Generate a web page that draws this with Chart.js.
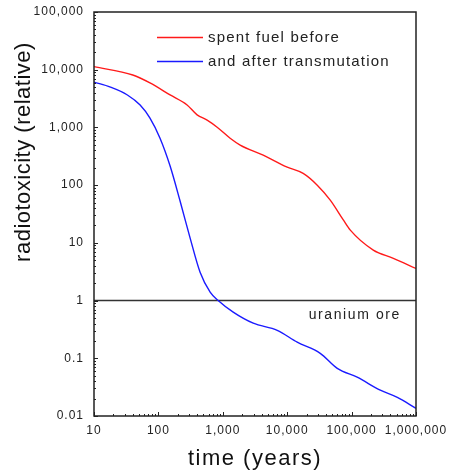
<!DOCTYPE html>
<html>
<head>
<meta charset="utf-8">
<script src="https://cdn.jsdelivr.net/npm/chart.js@4/dist/chart.umd.min.js"></script>
<style>
  html, body { margin: 0; padding: 0; background: #fff; }
  #wrap { width: 450px; height: 472px; }
</style>
</head>
<body>
<div id="wrap"><canvas id="chart" width="450" height="472"></canvas></div>
<script>
// Radiotoxicity of spent fuel before and after transmutation

const seriesLabels = ['spent fuel before', 'and after transmutation'];

// spent fuel before (red)
const beforeYears = [10, 40, 74, 152, 279, 399, 571, 817, 1300, 1860, 4240, 10000, 17700, 29300, 46600, 74300, 95500, 217000, 445000, 1000000];
const beforeValues = [11300, 8100, 5900, 3650, 2450, 1650, 1340, 1010, 650, 495, 330, 205, 160, 100, 55, 25, 16.6, 7.5, 5.4, 3.6];

// and after transmutation (blue)
const afterYears = [10, 18, 33, 52, 74, 106, 152, 217, 311, 444, 636, 847, 1450, 2970, 7000, 14300, 32600, 59900, 122000, 279000, 513000, 1000000];
const afterValues = [6100, 5000, 3650, 2440, 1450, 650, 214, 53, 12.1, 3.1, 1.4, 1.0, 0.63, 0.405, 0.305, 0.19, 0.122, 0.067, 0.047, 0.028, 0.021, 0.0136];

// uranium ore reference level
const oreLevel = 1;
const oreLabel = 'uranium ore';

// axis ticks
const xTicks = [10, 100, 1000, 10000, 100000, 1000000];
const xTickLabels = ['10', '100', '1,000', '10,000', '100,000', '1,000,000'];
const yTicks = [0.01, 0.1, 1, 10, 100, 1000, 10000, 100000];
const yTickLabels = ['0.01', '0.1', '1', '10', '100', '1,000', '10,000', '100,000'];

const xTitle = 'time (years)';
const yTitle = 'radiotoxicity (relative)';

const FONT = '"Liberation Sans", Arial, sans-serif';

function toPoints(xs, ys) {
    return xs.map((x, i) => ({ x: x, y: ys[i] }));
}

// letter spacing gets reset whenever the canvas is resized
const spacingPlugin = {
    id: 'spacing',
    beforeUpdate(chart) { chart.ctx.letterSpacing = '1px'; },
    beforeDraw(chart) { chart.ctx.letterSpacing = '1px'; }
};

// box, inward tick marks, legend, titles and ore label
const decorPlugin = {
    id: 'decor',
    afterDraw(chart) {
        const ctx = chart.ctx;
        const a = chart.chartArea;
        const xs = chart.scales.x;
        const ys = chart.scales.y;

        ctx.save();
        ctx.strokeStyle = '#222';
        ctx.lineWidth = 1;

        // minor + major ticks, pointing into the plot
        ctx.beginPath();
        xTicks.forEach((d, i) => {
            const px = Math.round(xs.getPixelForValue(d)) + 0.5;
            ctx.moveTo(px, a.bottom); ctx.lineTo(px, a.bottom - 4);
            if (i < xTicks.length - 1) {
                for (let k = 2; k < 10; k++) {
                    const mx = Math.round(xs.getPixelForValue(d * k)) + 0.5;
                    ctx.moveTo(mx, a.bottom); ctx.lineTo(mx, a.bottom - 2);
                }
            }
        });
        yTicks.forEach((d, i) => {
            const py = Math.round(ys.getPixelForValue(d)) + 0.5;
            ctx.moveTo(a.left, py); ctx.lineTo(a.left + 4, py);
            if (i < yTicks.length - 1) {
                for (let k = 2; k < 10; k++) {
                    const my = Math.round(ys.getPixelForValue(d * k)) + 0.5;
                    ctx.moveTo(a.left, my); ctx.lineTo(a.left + 2, my);
                }
            }
        });
        ctx.stroke();

        // frame
        ctx.lineWidth = 1.5;
        ctx.strokeRect(a.left, a.top, a.right - a.left, a.bottom - a.top);

        // legend inside the plot
        ctx.letterSpacing = '1.2px';
        ctx.font = '15px ' + FONT;
        ctx.textBaseline = 'middle';
        ctx.textAlign = 'left';
        chart.data.datasets.slice(0, 2).forEach((ds, i) => {
            const ly = a.top + 25.5 + i * 24;
            ctx.strokeStyle = ds.borderColor;
            ctx.lineWidth = 1.3;
            ctx.beginPath();
            ctx.moveTo(a.left + 63, ly);
            ctx.lineTo(a.left + 109, ly);
            ctx.stroke();
            ctx.fillStyle = '#222';
            ctx.fillText(ds.label, a.left + 114, ly);
        });

        // ore label under the reference line
        ctx.letterSpacing = '1.6px';
        ctx.font = '14px ' + FONT;
        ctx.textAlign = 'right';
        ctx.fillText(oreLabel, a.right - 15, ys.getPixelForValue(oreLevel) + 15);

        // axis titles
        ctx.font = '22px ' + FONT;
        ctx.fillStyle = '#111';
        ctx.textAlign = 'center';
        ctx.letterSpacing = '1.5px';
        ctx.fillText(xTitle, (a.left + a.right) / 2, 459);
        ctx.save();
        ctx.translate(24, 152);
        ctx.rotate(-Math.PI / 2);
        ctx.letterSpacing = '0.5px';
        ctx.fillText(yTitle, 0, 0);
        ctx.restore();

        ctx.restore();
    }
};

document.addEventListener('DOMContentLoaded', function() {
    const ctx = document.getElementById('chart').getContext('2d');
    new Chart(ctx, {
        type: 'scatter',
        data: {
            datasets: [
                {
                    label: seriesLabels[0],
                    data: toPoints(beforeYears, beforeValues),
                    showLine: true,
                    borderColor: '#ff1a1a',
                    borderWidth: 1.4,
                    pointRadius: 0,
                    cubicInterpolationMode: 'monotone'
                },
                {
                    label: seriesLabels[1],
                    data: toPoints(afterYears, afterValues),
                    showLine: true,
                    borderColor: '#1a1aff',
                    borderWidth: 1.4,
                    pointRadius: 0,
                    cubicInterpolationMode: 'monotone'
                },
                {
                    label: oreLabel,
                    data: toPoints([xTicks[0], xTicks[xTicks.length - 1]], [oreLevel, oreLevel]),
                    showLine: true,
                    borderColor: '#333',
                    borderWidth: 1.5,
                    pointRadius: 0
                }
            ]
        },
        options: {
            responsive: false,
            animation: false,
            layout: { padding: { top: 12, right: 34, left: 0, bottom: 0 } },
            plugins: {
                legend: { display: false },
                tooltip: { enabled: false }
            },
            scales: {
                x: {
                    type: 'logarithmic',
                    min: xTicks[0],
                    max: xTicks[xTicks.length - 1],
                    afterBuildTicks: s => { s.ticks = xTicks.map(v => ({ value: v })); },
                    afterFit: s => { s.height = 56; s.paddingLeft = 0; s.paddingRight = 0; },
                    grid: { display: false, drawTicks: false },
                    border: { display: false },
                    ticks: {
                        autoSkip: false,
                        maxRotation: 0,
                        padding: 7,
                        color: '#222',
                        font: { family: FONT, size: 12 },
                        callback: (v, i) => xTickLabels[i]
                    }
                },
                y: {
                    type: 'logarithmic',
                    min: yTicks[0],
                    max: yTicks[yTicks.length - 1],
                    afterBuildTicks: s => { s.ticks = yTicks.map(v => ({ value: v })); },
                    afterFit: s => { s.width = 94; s.paddingTop = 0; s.paddingBottom = 0; },
                    grid: { display: false, drawTicks: false },
                    border: { display: false },
                    ticks: {
                        autoSkip: false,
                        padding: 10,
                        color: '#222',
                        font: { family: FONT, size: 12 },
                        callback: (v, i) => yTickLabels[i]
                    }
                }
            }
        },
        plugins: [spacingPlugin, decorPlugin]
    });
});
</script>
</body>
</html>
